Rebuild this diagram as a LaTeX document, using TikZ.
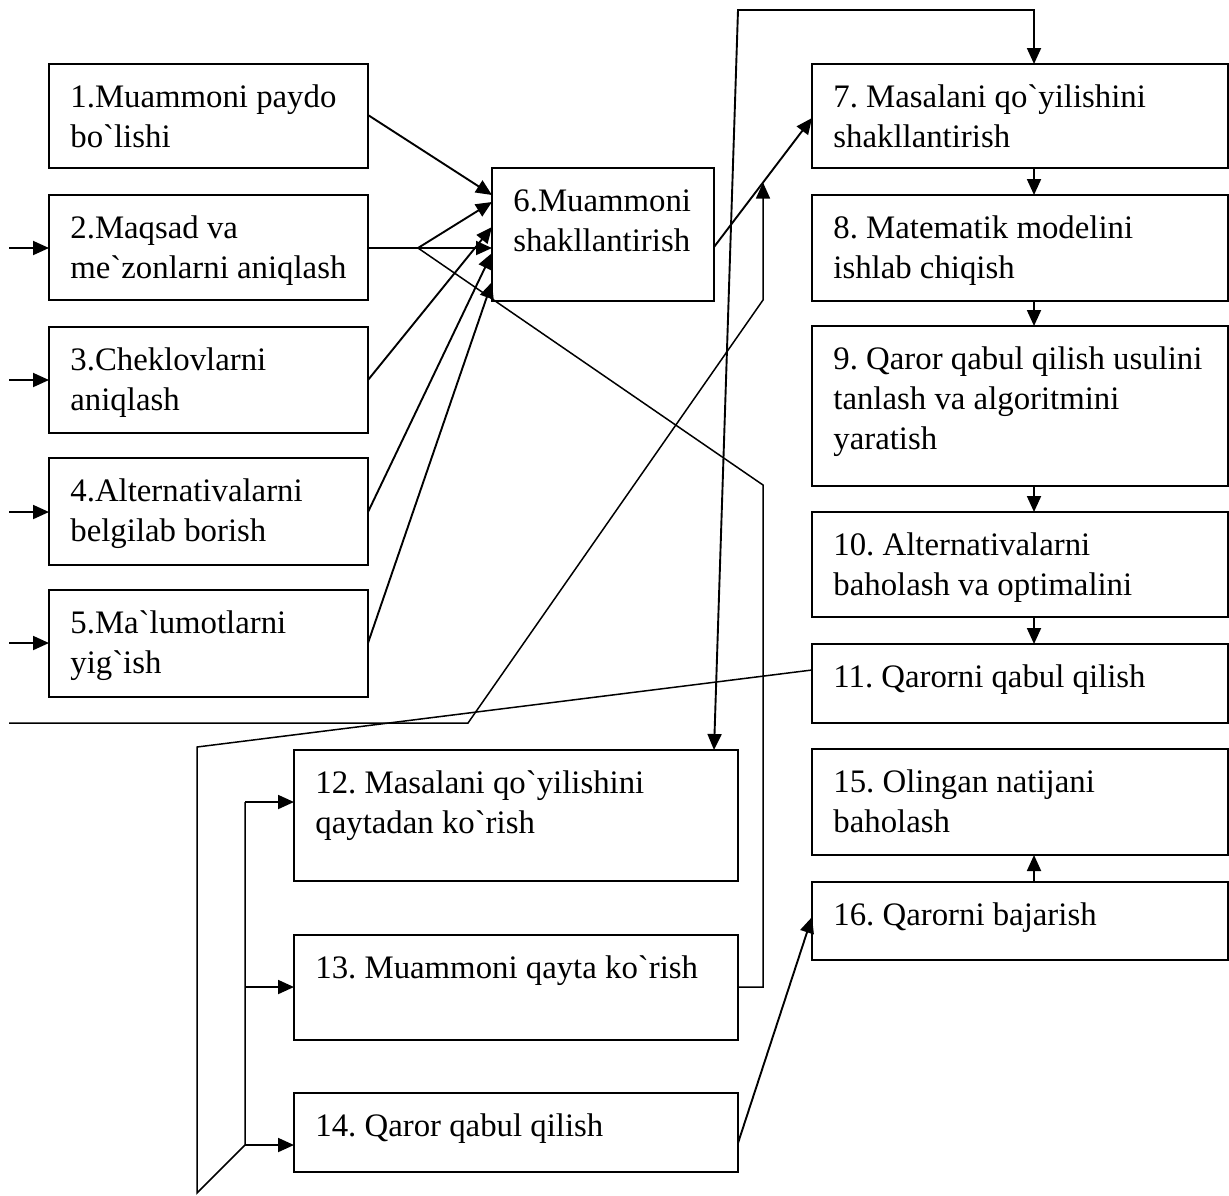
\documentclass[tikz,border=0pt]{standalone}
\usepackage{fontspec}
\newfontfamily\stagefont{Liberation Serif}
\usetikzlibrary{arrows.meta,calc}
\tikzset{
  stage/.style={draw, line width=1.1pt, inner sep=0pt, outer sep=0pt, anchor=north west},
  caption/.style={anchor=base west, inner sep=0pt, font=\stagefont\fontsize{16.4}{20}\selectfont},
  link/.style={line width=0.75pt, line join=miter},
  tip/.tip={Triangle[length=8pt,width=7pt]},
  arr/.style={link, line width=0.95pt, -tip},
  arrboth/.style={link, line width=0.95pt, tip-tip},
}
% a framed stage: name, left, top, right, bottom, lines of text
\newcommand\stagebox[6]{%
  \node[stage, minimum width={(#4-#2)*0.5pt}, minimum height={(#5-#3)*0.5pt}] (#1) at (#2,#3) {};
  \node[caption] (#1t) at ([shift={(10.5pt,-21.75pt)}]#1.north west) {\frenchspacing\vtop{\baselineskip=20pt #6}};
}
\begin{document}
\begin{tikzpicture}[x=0.5pt,y=-0.5pt]
\useasboundingbox (0,0) rectangle (1229,1195);

% left column
\stagebox{b1}{49}{64}{368}{168}{\hbox{1.Muammoni paydo}\hbox{bo`lishi}}
\stagebox{b2}{49}{195}{368}{300}{\hbox{2.Maqsad va}\hbox{me`zonlarni aniqlash}}
\stagebox{b3}{49}{327}{368}{433}{\hbox{3.Cheklovlarni}\hbox{aniqlash}}
\stagebox{b4}{49}{458}{368}{565}{\hbox{4.Alternativalarni}\hbox{belgilab borish}}
\stagebox{b5}{49}{590}{368}{697}{\hbox{5.Ma`lumotlarni}\hbox{yig`ish}}
% centre
\stagebox{b6}{492}{168}{714}{301}{\hbox{6.Muammoni}\hbox{shakllantirish}}
% right column
\stagebox{b7}{812}{64}{1228}{168}{\hbox{7. Masalani qo`yilishini}\hbox{shakllantirish}}
\stagebox{b8}{812}{195}{1228}{301}{\hbox{8. Matematik modelini}\hbox{ishlab chiqish}}
\stagebox{b9}{812}{326}{1228}{486}{\hbox{9. Qaror qabul qilish usulini}\hbox{tanlash va algoritmini}\hbox{yaratish}}
\stagebox{b10}{812}{512}{1228}{617}{\hbox{10. Alternativalarni}\hbox{baholash va optimalini}}
\stagebox{b11}{812}{644}{1228}{723}{\hbox{11. Qarorni qabul qilish}}
\stagebox{b15}{812}{749}{1228}{855}{\hbox{15. Olingan natijani}\hbox{baholash}}
\stagebox{b16}{812}{882}{1228}{960}{\hbox{16. Qarorni bajarish}}
% lower middle
\stagebox{b12}{294}{750}{738}{881}{\hbox{12. Masalani qo`yilishini}\hbox{qaytadan ko`rish}}
\stagebox{b13}{294}{935}{738}{1040}{\hbox{13. Muammoni qayta ko`rish}}
\stagebox{b14}{294}{1093}{738}{1172}{\hbox{14. Qaror qabul qilish}}

% incoming arrows on the left
\coordinate (in2) at (9,248);
\coordinate (in3) at (9,380);
\coordinate (in4) at (9,512);
\coordinate (in5) at (9,643);
\draw[arr] (in2) -- (b2.west |- in2);
\draw[arr] (in3) -- (b3.west |- in3);
\draw[arr] (in4) -- (b4.west |- in4);
\draw[arr] (in5) -- (b5.west |- in5);

% stages 1-5 feed stage 6
\coordinate (j2) at (418,248);
\draw[arr] (b1.east |- 0,115) -- (b6.west |- 0,195);
\draw[link, line width=0.95pt] (b2.east |- j2) -- (j2);
\draw[arr] (j2) -- (b6.west |- 0,202);
\draw[arr] (j2) -- (b6.west |- j2);
\draw[arr] (b3.east |- 0,380) -- (b6.west |- 0,227);
\draw[arr] (b4.east |- 0,512) -- (b6.west |- 0,253);
\draw[arr] (b5.east |- 0,643) -- (b6.west |- 0,282);

% return from stage 13 to the junction after stage 2
\draw[link] (b13.east |- 0,987) -- (763,987) -- (763,485) -- (j2);

% stage 6 to stage 7
\coordinate (s6) at (b6.east |- 0,247);
\coordinate (s7) at (b7.west |- 0,118);
\draw[arr] (s6) -- (s7);
\coordinate (m67) at ($(s6)!0.5!(s7)$);
\coordinate (inL) at (9,723);
\draw[link, -tip] (inL) -- (468,723) -- (763,300) -- (m67);

% loop between stage 12 and stage 7
\draw[arrboth] (b12.north -| 714,0) -- (738,10) -- (1034,10) -- (b7.north -| 1034,0);

% right column sequence
\draw[arr] (b7.south -| 1034,0) -- (b8.north -| 1034,0);
\draw[arr] (b8.south -| 1034,0) -- (b9.north -| 1034,0);
\draw[arr] (b9.south -| 1034,0) -- (b10.north -| 1034,0);
\draw[arr] (b10.south -| 1034,0) -- (b11.north -| 1034,0);
\draw[arr] (b16.north -| 1034,0) -- (b15.south -| 1034,0);

% stage 11 branches to stages 12-14
\coordinate (k12) at (245,802);
\coordinate (k13) at (245,987);
\coordinate (k14) at (245,1145);
\draw[link] (b11.west |- 0,670) -- (197,747) -- (197,1193) -- (k14) -- (k12);
\draw[arr] (k12) -- (b12.west |- k12);
\draw[arr] (k13) -- (b13.west |- k13);
\draw[arr] (k14) -- (b14.west |- k14);

% stage 14 to stage 16
\draw[arr] (b14.east |- 0,1143) -- (b16.west |- 0,917);
\end{tikzpicture}
\end{document}
